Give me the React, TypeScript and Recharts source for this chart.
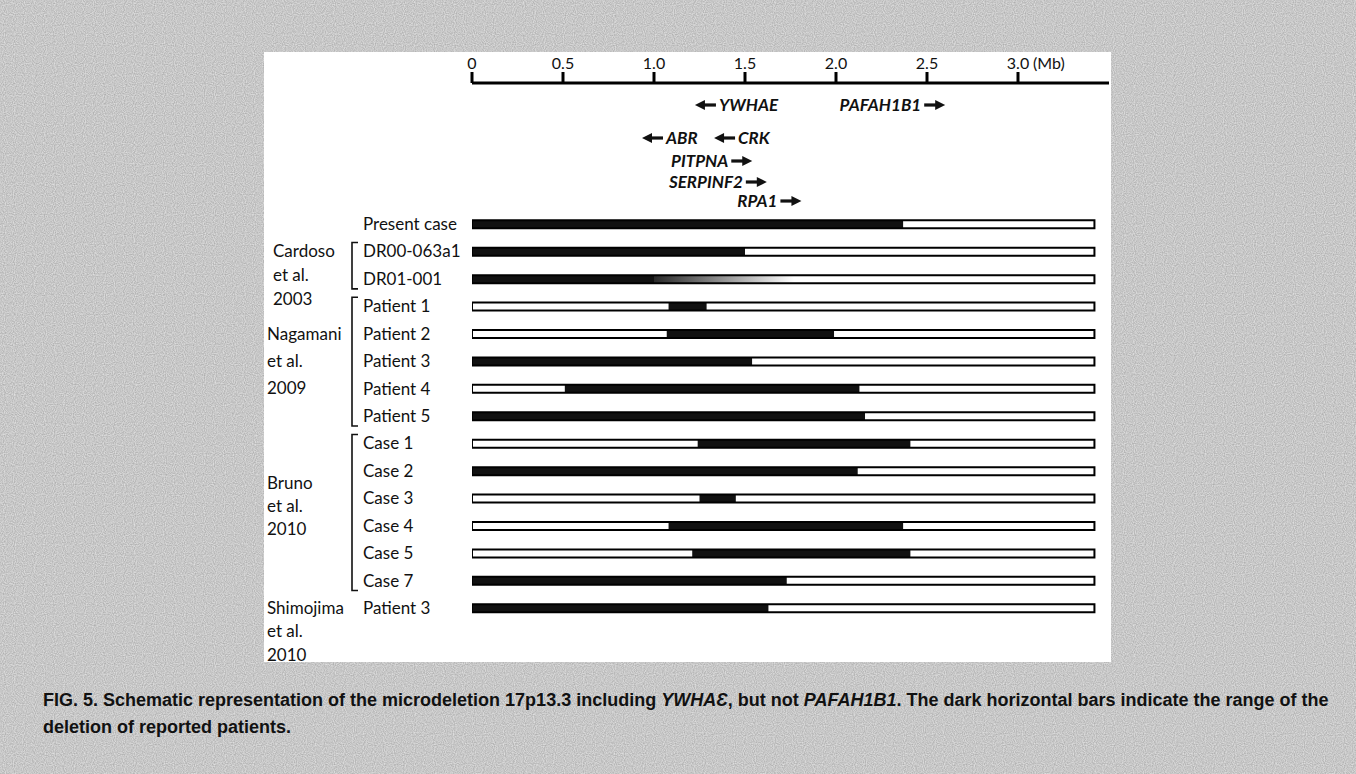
import React from 'react'
import { Bar, ComposedChart, ReferenceLine, XAxis, YAxis } from 'recharts'

// rows, top to bottom
const rowLabels = [
  'Present case',
  'DR00-063a1',
  'DR01-001',
  'Patient 1',
  'Patient 2',
  'Patient 3',
  'Patient 4',
  'Patient 5',
  'Case 1',
  'Case 2',
  'Case 3',
  'Case 4',
  'Case 5',
  'Case 7',
  'Patient 3',
]
// deletion range (Mb)
const delStart = [0, 0, 0, 1.08, 1.07, 0, 0.51, 0, 1.24, 0, 1.25, 1.08, 1.21, 0, 0]
const delEnd = [2.37, 1.5, 1.0, 1.29, 1.99, 1.54, 2.13, 2.16, 2.41, 2.12, 1.45, 2.37, 2.41, 1.73, 1.63]
// uncertain boundary (grey fade) for DR01-001 only
const fadeEnd = [null, null, 1.77, null, null, null, null, null, null, null, null, null, null, null, null]
const regionEnd = 3.42

const axisTicks = [0, 0.5, 1, 1.5, 2, 2.5, 3]
const axisMax = 3.5

const geneNames = ['YWHAE', 'PAFAH1B1', 'ABR', 'CRK', 'PITPNA', 'SERPINF2', 'RPA1']
const geneTip = [1.225, 2.6, 0.934, 1.33, 1.54, 1.62, 1.81]
const geneDir = ['left', 'right', 'left', 'left', 'right', 'right', 'right']
const geneLane = [0, 0, 1, 1, 2, 3, 4]

const groupLines = [
  ['Cardoso', 'et al.', '2003'],
  ['Nagamani', 'et al.', '2009'],
  ['Bruno', 'et al.', '2010'],
  ['Shimojima', 'et al.', '2010'],
]
const groupFirstRow = [1, 3, 8, 14]
const groupLastRow = [2, 7, 13, 14]

// layout
const W = 1356
const H = 774
const MARGIN = { top: 43, right: 247, bottom: 152.3, left: 0 }
const X_AXIS_H = 40
const Y_AXIS_W = 472
const CAT_PAD_TOP = 127.3
const CAT_SPAN = H - MARGIN.top - X_AXIS_H - MARGIN.bottom - CAT_PAD_TOP
const ROW_STEP = CAT_SPAN / rowLabels.length
const LABEL_X = 363
const BRACKET_X = 352
const LANE_OFFSET = [22, 55, 78, 99, 118]
const GROUP_LAYOUT = [
  { row: 1, dy: 0, lh: 24, x: 273 },
  { row: 4, dy: 0, lh: 27, x: 267 },
  { row: 9, dy: 12, lh: 23, x: 267 },
  { row: 14, dy: 0, lh: 23.5, x: 267 },
]
const FONT = 'Lato, "Open Sans", sans-serif'
const INK = '#111'

const data = rowLabels.map((label, i) => {
  const s = delStart[i]
  const e = delEnd[i]
  const f = fadeEnd[i] ?? e
  return { label, lead: s, del: e - s, fade: f - e, tail: regionEnd - f, total: regionEnd }
})

const AxisTick = (props: any) => {
  const { x, y, payload } = props
  const v = payload.value as number
  const txt = v === 0 ? '0' : v.toFixed(1)
  return (
    <g>
      <text x={x} y={y} textAnchor="middle" fontFamily={FONT} fontSize={16} fill={INK}>
        {txt}
      </text>
      {v === 3 && (
        <text x={x + 15} y={y} textAnchor="start" fontFamily={FONT} fontSize={16} fill={INK}>
          (Mb)
        </text>
      )}
    </g>
  )
}

const RowTick = (props: any) => {
  const { y, payload, index } = props
  const gi = groupFirstRow.indexOf(index)
  const lay = GROUP_LAYOUT.find((g) => g.row === index)
  const layIdx = lay ? GROUP_LAYOUT.indexOf(lay) : -1
  let bracket = null
  if (gi >= 0 && groupLastRow[gi] > groupFirstRow[gi]) {
    const y0 = y - 9
    const y1 = y + (groupLastRow[gi] - groupFirstRow[gi]) * ROW_STEP + 10
    bracket = (
      <path
        d={`M${BRACKET_X + 6},${y0} H${BRACKET_X} V${y1} H${BRACKET_X + 6}`}
        fill="none"
        stroke={INK}
        strokeWidth={1.6}
      />
    )
  }
  return (
    <g>
      <text x={LABEL_X} y={y} dy="0.35em" textAnchor="start" fontFamily={FONT} fontSize={17} fill={INK}>
        {payload.value}
      </text>
      {bracket}
      {layIdx >= 0 &&
        groupLines[layIdx].map((ln, k) => (
          <text
            key={k}
            x={lay!.x}
            y={y + lay!.dy + k * lay!.lh}
            dy="0.35em"
            fontFamily={FONT}
            fontSize={17}
            fill={INK}
          >
            {ln}
          </text>
        ))}
    </g>
  )
}

const GeneMark = ({ viewBox, name, dir, lane }: any) => {
  if (!viewBox) return null
  const x = viewBox.x
  const y = viewBox.y + LANE_OFFSET[lane]
  const s = dir === 'left' ? 1 : -1
  return (
    <g>
      <g fill={INK}>
        <path d={`M${x},${y} L${x + s * 10},${y - 5} L${x + s * 10},${y + 5} Z`} />
        <rect x={Math.min(x + s * 9, x + s * 21)} y={y - 1.6} width={12} height={3.2} />
      </g>
      <text
        x={x + s * 24}
        y={y}
        dy="0.35em"
        textAnchor={dir === 'left' ? 'start' : 'end'}
        fontFamily={FONT}
        fontStyle="italic"
        fontWeight={700}
        fontSize={17}
        fill={INK}
      >
        {name}
      </text>
    </g>
  )
}

const Chart = () => (
  <ComposedChart width={W} height={H} data={data} layout="vertical" margin={MARGIN}>
    <defs>
      <linearGradient id="fadeGrad" x1="0" y1="0" x2="1" y2="0">
        <stop offset="0%" stopColor="#2a2a2a" />
        <stop offset="100%" stopColor="#ffffff" />
      </linearGradient>
    </defs>
    <XAxis
      type="number"
      orientation="top"
      domain={[0, axisMax]}
      ticks={axisTicks}
      height={X_AXIS_H}
      axisLine={{ stroke: '#000', strokeWidth: 3 }}
      tickLine={{ stroke: '#000', strokeWidth: 3 }}
      tickSize={11}
      tickMargin={3}
      tick={<AxisTick />}
      allowDataOverflow
    />
    <YAxis
      type="category"
      dataKey="label"
      width={Y_AXIS_W}
      padding={{ top: CAT_PAD_TOP, bottom: 0 }}
      axisLine={false}
      tickLine={false}
      interval={0}
      tick={<RowTick />}
    />
    <YAxis yAxisId="frame" type="category" dataKey="label" hide padding={{ top: CAT_PAD_TOP, bottom: 0 }} />
    <Bar dataKey="lead" stackId="seg" barSize={8} fill="#fff" isAnimationActive={false} />
    <Bar dataKey="del" stackId="seg" barSize={8} fill="#111" isAnimationActive={false} />
    <Bar dataKey="fade" stackId="seg" barSize={8} fill="url(#fadeGrad)" isAnimationActive={false} />
    <Bar dataKey="tail" stackId="seg" barSize={8} fill="#fff" isAnimationActive={false} />
    <Bar
      dataKey="total"
      yAxisId="frame"
      barSize={8}
      fill="none"
      stroke="#000"
      strokeWidth={2}
      isAnimationActive={false}
    />
    {geneNames.map((g, i) => (
      <ReferenceLine
        key={g}
        x={geneTip[i]}
        stroke="none"
        label={(p: any) => <GeneMark {...p} name={g} dir={geneDir[i]} lane={geneLane[i]} />}
      />
    ))}
  </ComposedChart>
)

export default function App() {
  return (
    <div style={{ position: 'absolute', left: 0, top: 0, width: W, height: H, background: '#e0e0e0', overflow: 'hidden' }}>
      <svg width={W} height={H} style={{ position: 'absolute', left: 0, top: 0 }}>
        <filter id="grain">
          <feTurbulence type="fractalNoise" baseFrequency="0.9" numOctaves={1} seed={3} />
          <feColorMatrix type="matrix" values="0 0 0 0 0  0 0 0 0 0  0 0 0 0 0  0.34 0 0 0 -0.06" />
        </filter>
        <rect width={W} height={H} filter="url(#grain)" />
      </svg>
      <div style={{ position: 'absolute', left: 264, top: 52, width: 847, height: 610, background: '#fff' }} />
      <div style={{ position: 'absolute', left: 0, top: 0 }}>
        <Chart />
      </div>
      <svg width={W} height={H} style={{ position: 'absolute', left: 0, top: 0, pointerEvents: 'none' }}>
        <g fontFamily='"Liberation Sans", Arial, sans-serif' fontWeight={700} fontSize={18} fill={INK}>
          <text x={43} y={706}>
            FIG. 5. Schematic representation of the microdeletion 17p13.3 including{' '}
            <tspan fontStyle="italic">YWHAƐ</tspan>, but not <tspan fontStyle="italic">PAFAH1B1</tspan>. The dark
            horizontal bars indicate the range of the
          </text>
          <text x={43} y={733}>
            deletion of reported patients.
          </text>
        </g>
      </svg>
    </div>
  )
}
